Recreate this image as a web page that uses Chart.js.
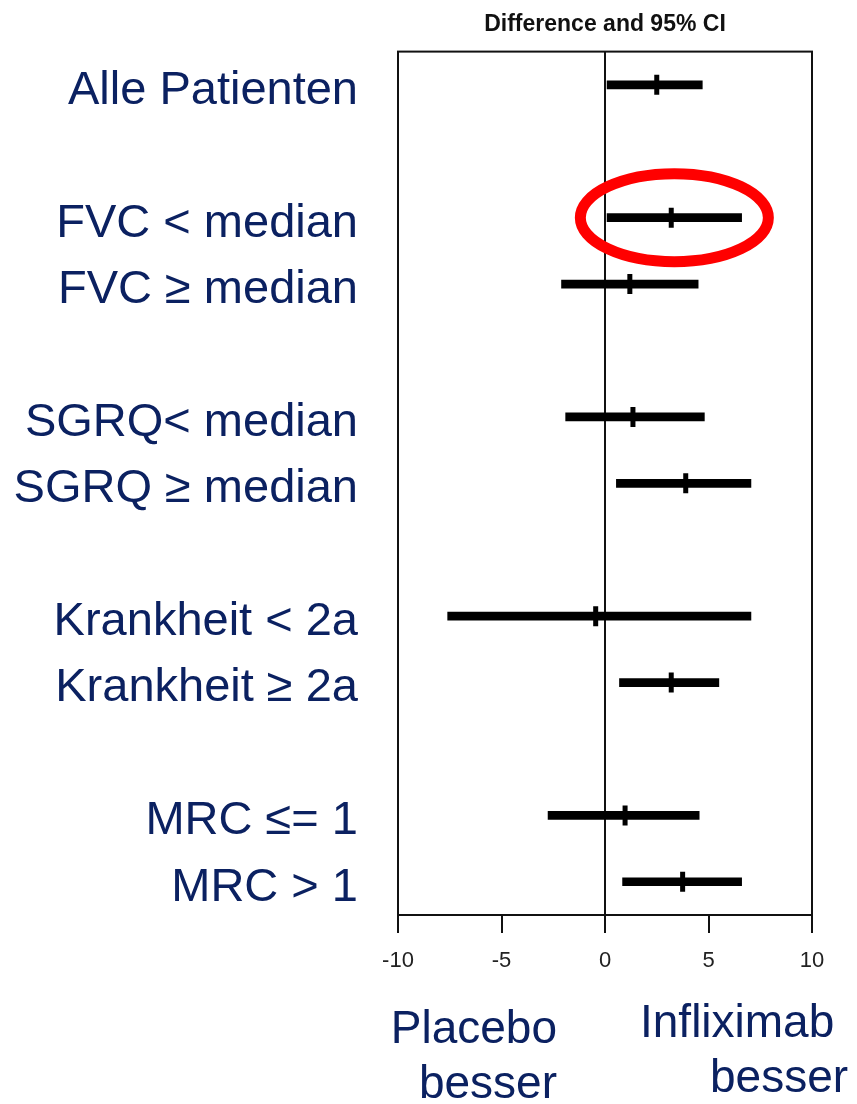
<!DOCTYPE html>
<html>
<head>
<meta charset="utf-8">
<title>Difference and 95% CI</title>
<script src="https://cdn.jsdelivr.net/npm/chart.js@4/dist/chart.umd.min.js"></script>
<style>
  html, body { margin: 0; padding: 0; background: #ffffff; }
  #wrap { width: 857px; height: 1104px; }
</style>
</head>
<body>
<div id="wrap"><canvas id="forest" width="857" height="1104"></canvas></div>
<script>
// Subgroups, top to bottom
const categories = [
  'Alle Patienten',
  'FVC < median', 'FVC ≥ median',
  'SGRQ< median', 'SGRQ ≥ median',
  'Krankheit < 2a', 'Krankheit ≥ 2a',
  'MRC ≤= 1', 'MRC > 1'
];
// Grouping of the subgroups (a blank row separates groups)
const rowGroup = [0, 1, 1, 2, 2, 3, 3, 4, 4];

// Difference and 95% confidence interval
const estimate = [2.5, 3.2, 1.2, 1.35, 3.9, -0.45, 3.2, 0.97, 3.75];
const ciLower  = [0.1, 0.1, -2.1, -1.9, 0.55, -7.6, 0.7, -2.75, 0.85];
const ciUpper  = [4.7, 6.6, 4.5, 4.8, 7.05, 7.05, 5.5, 4.55, 6.6];

// x axis
const xTicks = [-10, -5, 0, 5, 10];

// Subgroup circled in red
const highlighted = 'FVC < median';

const NAVY = '#0b2161';
const FONT = "'Liberation Sans', Arial, Helvetica, sans-serif";

// Build the category rows, with blank spacer rows between groups
const yLabels = [];
const slotOf = [];
categories.forEach((c, i) => {
  if (i > 0 && rowGroup[i] !== rowGroup[i - 1]) yLabels.push('');
  slotOf.push(yLabels.length);
  yLabels.push(c);
});
const ciData = yLabels.map(() => null);
const estData = yLabels.map(() => null);
categories.forEach((c, i) => {
  ciData[slotOf[i]] = [ciLower[i], ciUpper[i]];
  estData[slotOf[i]] = estimate[i];
});

// Frame around the plotting area
const framePlugin = {
  id: 'frame',
  beforeDatasetsDraw(chart) {
    const { ctx, chartArea: a } = chart;
    ctx.save();
    ctx.strokeStyle = '#111';
    ctx.lineWidth = 2;
    ctx.strokeRect(a.left, a.top, a.right - a.left, a.bottom - a.top);
    ctx.restore();
  }
};

// Red ellipse around the highlighted subgroup
const ellipsePlugin = {
  id: 'highlightEllipse',
  afterDatasetsDraw(chart) {
    const i = categories.indexOf(highlighted);
    if (i < 0) return;
    const xs = chart.scales.x, ys = chart.scales.y;
    const cx = xs.getPixelForValue((ciLower[i] + ciUpper[i]) / 2);
    const cy = ys.getPixelForValue(slotOf[i]);
    const { ctx } = chart;
    ctx.save();
    ctx.strokeStyle = '#ff0000';
    ctx.lineWidth = 11;
    ctx.beginPath();
    ctx.ellipse(cx, cy, 94, 44, 0, 0, Math.PI * 2);
    ctx.stroke();
    ctx.restore();
  }
};

// Direction captions below the x axis
const captionPlugin = {
  id: 'directionCaptions',
  afterDraw(chart) {
    const { ctx } = chart;
    const x0 = chart.scales.x.getPixelForValue(0);
    ctx.save();
    ctx.fillStyle = NAVY;
    ctx.font = '46px ' + FONT;
    ctx.textBaseline = 'alphabetic';
    ctx.textAlign = 'right';
    ctx.fillText('Placebo', x0 - 48, 1043);
    ctx.fillText('besser', x0 - 48, 1098);
    ctx.textAlign = 'left';
    ctx.fillText('Infliximab', x0 + 35, 1037);
    ctx.fillText('besser', x0 + 105, 1092);
    ctx.restore();
  }
};

new Chart(document.getElementById('forest'), {
  data: {
    labels: yLabels,
    datasets: [
      {
        type: 'bar',
        label: '95% CI',
        data: ciData,
        backgroundColor: '#000',
        borderWidth: 0,
        barThickness: 8,
        borderSkipped: false
      },
      {
        type: 'line',
        label: 'Difference',
        data: estData,
        showLine: false,
        pointStyle: 'line',
        pointRotation: 90,
        pointRadius: 10,
        pointBorderWidth: 5,
        pointBorderColor: '#000',
        pointBackgroundColor: '#000',
        borderColor: '#000'
      }
    ]
  },
  options: {
    indexAxis: 'y',
    responsive: false,
    animation: false,
    devicePixelRatio: 1,
    layout: { padding: { left: 0, right: 45, top: 0, bottom: 0 } },
    plugins: {
      legend: { display: false },
      tooltip: { enabled: false },
      title: {
        display: true,
        text: 'Difference and 95% CI',
        fullSize: false,
        color: '#111',
        font: { family: FONT, size: 23, weight: 'bold', lineHeight: 1.2 },
        padding: { top: 11, bottom: 13 }
      }
    },
    scales: {
      x: {
        type: 'linear',
        position: 'bottom',
        min: -10,
        max: 10,
        afterBuildTicks(scale) { scale.ticks = xTicks.map(v => ({ value: v })); },
        afterFit(scale) { scale.height = 189; },
        ticks: {
          color: '#222',
          font: { family: FONT, size: 22 },
          padding: 15,
          maxRotation: 0
        },
        grid: {
          drawOnChartArea: true,
          color: ctx => (ctx.tick && ctx.tick.value === 0) ? '#111' : 'rgba(0,0,0,0)',
          lineWidth: 2,
          tickColor: '#111',
          tickWidth: 2,
          tickLength: 18
        },
        border: { display: true, color: '#111', width: 2 }
      },
      y: {
        type: 'category',
        offset: true,
        afterFit(scale) {
          scale.width = 398;
          scale.paddingTop = 0;
          scale.paddingBottom = 0;
        },
        ticks: {
          autoSkip: false,
          color: NAVY,
          font: { family: FONT, size: 47 },
          padding: 40,
          labelOffset: 6
        },
        grid: { display: false, drawTicks: false },
        border: { display: true, color: '#111', width: 2 }
      }
    }
  },
  plugins: [framePlugin, ellipsePlugin, captionPlugin]
});
</script>
</body>
</html>
